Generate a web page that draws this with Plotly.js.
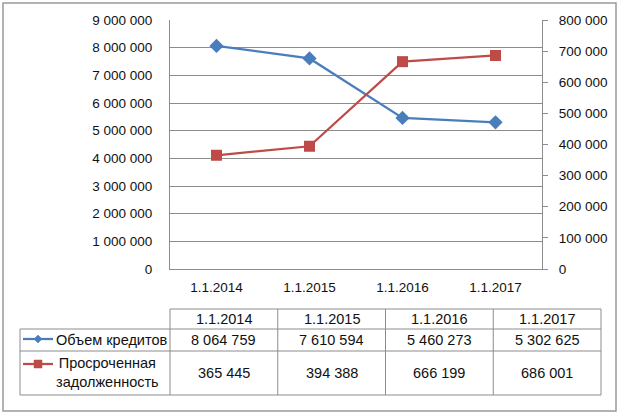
<!DOCTYPE html>
<html>
<head>
<meta charset="utf-8">
<script src="https://cdn.plot.ly/plotly-3.0.1.min.js"></script>
<style>html,body{margin:0;padding:0;background:#fff;}#chart{width:619px;height:414px;}</style>
</head>
<body>
<div id="chart"></div>
<script>
const categories = ['1.1.2014', '1.1.2015', '1.1.2016', '1.1.2017'];
const seriesNames = ['Объем кредитов', 'Просроченная<br>задолженность'];
const credits = [8064759, 7610594, 5460273, 5302625];
const overdue = [365445, 394388, 666199, 686001];

const blue = '#4A7EBB';
const red = '#BE4B48';
const gridC = '#8C8C8C';
const textC = '#111111';
const FONT = 'Liberation Sans, Arial, sans-serif';

const W = 619, H = 414;
const L = 170, R = 542, T = 20, B = 269;
const px = x => (x - L) / (R - L);
const py = y => (B - y) / (B - T);

function fmt(n) { return String(n).replace(/\B(?=(\d{3})+(?!\d))/g, ' '); }

const traces = [
  {x: categories, y: credits, name: seriesNames[0], type: 'scatter', mode: 'lines+markers',
   line: {color: blue, width: 2.25}, marker: {symbol: 'diamond', size: 11, color: blue}, yaxis: 'y'},
  {x: categories, y: overdue, name: seriesNames[1], type: 'scatter', mode: 'lines+markers',
   line: {color: red, width: 2.25}, marker: {symbol: 'square', size: 11, color: red}, yaxis: 'y2'}
];

const shapes = [];
const annotations = [];
// outer border
shapes.push({type: 'rect', xref: 'paper', yref: 'paper', x0: px(3), x1: px(616), y0: py(3), y1: py(411),
  line: {color: '#9a9a9a', width: 1.5}});

// table grid
const tL = 20, c0 = 170, colW = 107.75, nC = categories.length;
const rows = [309, 329, 351, 395];
const tR = c0 + colW * nC;
const hl = (x0, x1, y) => shapes.push({type: 'line', xref: 'paper', yref: 'paper', x0: px(x0), x1: px(x1), y0: py(y), y1: py(y), line: {color: gridC, width: 1}});
const vl = (x, y0, y1) => shapes.push({type: 'line', xref: 'paper', yref: 'paper', x0: px(x), x1: px(x), y0: py(y0), y1: py(y1), line: {color: gridC, width: 1}});
hl(c0, tR, rows[0]);
hl(tL, tR, rows[1]);
hl(tL, tR, rows[2]);
hl(tL, tR, rows[3]);
vl(tL, rows[1], rows[3]);
for (let i = 0; i <= nC; i++) vl(c0 + colW * i, rows[0], rows[3]);

const tfont = {family: FONT, size: 14.5, color: textC};
const rowMid = [(rows[0] + rows[1]) / 2, (rows[1] + rows[2]) / 2, (rows[2] + rows[3]) / 2];
categories.forEach((c, i) => {
  const cx = c0 + colW * (i + 0.5);
  annotations.push({xref: 'paper', yref: 'paper', x: px(cx), y: py(rowMid[0]), text: c, showarrow: false, xanchor: 'center', yanchor: 'middle', font: tfont});
  annotations.push({xref: 'paper', yref: 'paper', x: px(cx), y: py(rowMid[1]), text: fmt(credits[i]), showarrow: false, xanchor: 'center', yanchor: 'middle', font: tfont});
  annotations.push({xref: 'paper', yref: 'paper', x: px(cx), y: py(rowMid[2]), text: fmt(overdue[i]), showarrow: false, xanchor: 'center', yanchor: 'middle', font: tfont});
});
// row headers
annotations.push({xref: 'paper', yref: 'paper', x: px(111), y: py(rowMid[1]), text: seriesNames[0], showarrow: false, xanchor: 'center', yanchor: 'middle', font: tfont});
annotations.push({xref: 'paper', yref: 'paper', x: px(107), y: py(rowMid[2]), text: seriesNames[1], showarrow: false, xanchor: 'center', yanchor: 'middle', font: tfont, align: 'center'});

// legend keys
function keyLine(y, color) {
  shapes.push({type: 'line', xref: 'paper', yref: 'paper', x0: px(23), x1: px(53), y0: py(y), y1: py(y), line: {color: color, width: 2.25}});
}
keyLine(339, blue);
keyLine(364, red);
const kx = 38;
// diamond
shapes.push({type: 'path', xref: 'paper', yref: 'paper',
  path: `M ${px(kx - 4)} ${py(339)} L ${px(kx)} ${py(335)} L ${px(kx + 4)} ${py(339)} L ${px(kx)} ${py(343)} Z`,
  fillcolor: blue, line: {color: blue, width: 0.5}});
// square
shapes.push({type: 'rect', xref: 'paper', yref: 'paper', x0: px(kx - 4), x1: px(kx + 4), y0: py(360), y1: py(368),
  fillcolor: red, line: {color: red, width: 0.5}});

const afont = {family: FONT, size: 13.5, color: textC};
const layout = {
  width: W, height: H,
  margin: {l: L, r: W - R, t: T, b: H - B, pad: 0},
  paper_bgcolor: '#fff', plot_bgcolor: '#fff',
  separators: ', ',
  showlegend: false,
  font: afont,
  xaxis: {type: 'category', range: [-0.5, categories.length - 0.5], showgrid: false, showline: true,
    linecolor: gridC, linewidth: 1, ticks: '', tickfont: afont, ticklabelstandoff: 6, zeroline: false, fixedrange: true},
  yaxis: {range: [0, 9000000], dtick: 1000000, tickformat: ',d', showgrid: true, gridcolor: gridC, gridwidth: 1,
    showline: true, linecolor: gridC, linewidth: 1, ticks: '', tickfont: afont, ticklabelstandoff: 14, zeroline: false, fixedrange: true},
  yaxis2: {range: [0, 800000], dtick: 100000, tickformat: ',d', overlaying: 'y', side: 'right', showgrid: false,
    showline: true, linecolor: gridC, linewidth: 1, ticks: 'outside', ticklen: 5, tickcolor: gridC, tickfont: afont,
    ticklabelstandoff: 8, zeroline: false, fixedrange: true},
  shapes: shapes,
  annotations: annotations
};

Plotly.newPlot('chart', traces, layout, {displayModeBar: false, staticPlot: true});
</script>
</body>
</html>
